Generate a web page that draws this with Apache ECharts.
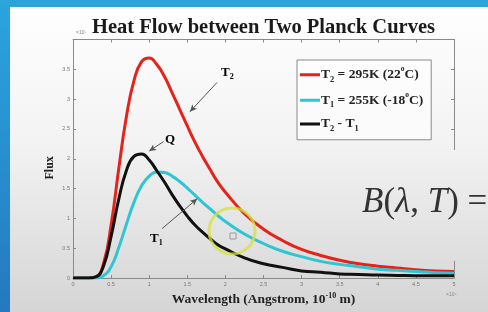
<!DOCTYPE html>
<html>
<head>
<meta charset="utf-8">
<script src="https://cdn.jsdelivr.net/npm/echarts@6/dist/echarts.min.js"></script>
<style>html,body{margin:0;padding:0;background:#fff;} #chart{width:488px;height:312px;}</style>
</head>
<body>
<div id="chart"></div>
<script>
const wavelength = [0, 0.1, 0.2, 0.3, 0.4, 0.5, 0.6, 0.7, 0.8, 0.9, 1.0, 1.1, 1.2, 1.3, 1.4, 1.5, 1.6, 1.7, 1.8, 1.9, 2.0,
    2.25, 2.5, 2.75, 3.0, 3.25, 3.5, 3.75, 4.0, 4.25, 4.5, 4.75, 5.0];
const fluxT2 = [0, 0, 0, 0.02, 0.24, 0.89, 1.83, 2.70, 3.31, 3.63, 3.69, 3.58, 3.38, 3.11, 2.83, 2.55, 2.28, 2.04, 1.82, 1.61, 1.44,
    1.08, 0.82, 0.63, 0.48, 0.38, 0.30, 0.24, 0.20, 0.17, 0.14, 0.12, 0.11];
const fluxT1 = [0, 0, 0, 0, 0.04, 0.19, 0.51, 0.90, 1.27, 1.55, 1.71, 1.78, 1.77, 1.71, 1.62, 1.51, 1.39, 1.27, 1.16, 1.05, 0.95,
    0.74, 0.58, 0.45, 0.36, 0.28, 0.23, 0.19, 0.15, 0.13, 0.11, 0.09, 0.08];
const fluxQ  = [0, 0, 0, 0.02, 0.20, 0.70, 1.32, 1.80, 2.04, 2.08, 1.98, 1.80, 1.61, 1.40, 1.21, 1.04, 0.89, 0.77, 0.66, 0.56, 0.49,
    0.34, 0.24, 0.18, 0.12, 0.10, 0.07, 0.06, 0.05, 0.045, 0.04, 0.04, 0.04];
const seriesNames = ['T2 = 295K (22°C)', 'T1 = 255K (-18°C)', 'T2 - T1'];
const xTicks = ['0', '0.5', '1', '1.5', '2', '2.5', '3', '3.5', '4', '4.5', '5'];
const yTicks = ['0', '0.5', '1', '1.5', '2', '2.5', '3', '3.5', ''];

const chart = echarts.init(document.getElementById('chart'));
const serif = '"Liberation Serif", "DejaVu Serif", serif';

function pairs(ys) {
    return wavelength.map(function (x, i) { return [x, ys[i]]; });
}

const slideBg = new echarts.graphic.LinearGradient(0, 0, 0, 312, [
    {offset: 0, color: '#ffffff'},
    {offset: 0.45, color: '#f3f3f3'},
    {offset: 1, color: '#d5d5d5'}
], true);

const legendText = {
    'T2 = 295K (22°C)': '{n|T}{s|2}{n| = 295K (22}{p|o}{n|C)}',
    'T1 = 255K (-18°C)': '{n|T}{s|1}{n| = 255K (-18}{p|o}{n|C)}',
    'T2 - T1': '{n|T}{s|2}{n| - T}{s|1}'
};
function subSup(size) {
    return {
        n: {fontFamily: serif, fontWeight: 'bold', fontSize: size, lineHeight: size + 4, color: '#222'},
        s: {fontFamily: serif, fontWeight: 'bold', fontSize: size * 0.62, lineHeight: size * 0.62, verticalAlign: 'bottom', color: '#222'},
        p: {fontFamily: serif, fontWeight: 'bold', fontSize: size * 0.55, lineHeight: size * 0.55, verticalAlign: 'top', color: '#222'}
    };
}

const axisGray = '#8a8a8a';
function boxAxis(pos, showLabel, ticks, extra) {
    return Object.assign({
        type: 'value',
        position: pos,
        min: 0,
        interval: 0.5,
        axisLine: {show: true, onZero: false, lineStyle: {color: axisGray, width: 1}},
        axisTick: {show: true, inside: true, length: 3, lineStyle: {color: axisGray}},
        axisLabel: {
            show: showLabel, fontSize: 5.5, color: '#777', margin: 3,
            formatter: function (v) { return ticks[Math.round(v / 0.5)]; }
        },
        splitLine: {show: false}
    }, extra || {});
}

function arrow(from, to) {
    return {
        silent: true,
        symbol: ['none', 'arrow'],
        symbolSize: [5, 7],
        lineStyle: {color: '#555', width: 1, type: 'solid'},
        label: {show: false},
        data: [[{coord: from}, {coord: to}]]
    };
}

const option = {
    animation: false,
    title: {
        text: 'Heat Flow between Two Planck Curves',
        left: 87,
        top: 12,
        textStyle: {fontFamily: serif, fontWeight: 'bold', fontSize: 20.5, color: '#1a1a1a'}
    },
    grid: {left: 73, right: 34, top: 39.5, bottom: 30},
    legend: {
        orient: 'vertical',
        left: 297,
        top: 60,
        padding: [6, 8, 7, 3],
        itemGap: 8,
        itemWidth: 20,
        itemHeight: 3,
        icon: 'rect',
        backgroundColor: 'rgba(255,255,255,0.6)',
        borderColor: '#8a8a8a',
        borderWidth: 1,
        borderRadius: 0,
        data: seriesNames,
        formatter: function (name) { return legendText[name]; },
        textStyle: {padding: [0, 0, 0, -4], rich: subSup(13.5)}
    },
    xAxis: [
        boxAxis('bottom', true, xTicks, {
            max: 5,
            name: '{n|Wavelength (Angstrom, 10}{p|-10}{n| m)}',
            nameLocation: 'middle',
            nameGap: 11,
            nameTextStyle: {
                rich: {
                    n: {fontFamily: serif, fontWeight: 'bold', fontSize: 13.5, lineHeight: 16, color: '#222'},
                    p: {fontFamily: serif, fontWeight: 'bold', fontSize: 8, lineHeight: 8, verticalAlign: 'top', color: '#222'}
                }
            }
        }),
        boxAxis('top', false, xTicks, {max: 5})
    ],
    yAxis: [
        boxAxis('left', true, yTicks, {
            max: 4,
            name: 'Flux',
            nameLocation: 'middle',
            nameGap: 17,
            nameMoveOverlap: false,
            nameRotate: 90,
            nameTextStyle: {fontFamily: serif, fontWeight: 'bold', fontSize: 12, color: '#222', padding: [0, 18, 0, 0]}
        }),
        boxAxis('right', false, yTicks, {max: 4})
    ],
    series: [
        {
            name: seriesNames[0], type: 'line', data: pairs(fluxT2),
            smooth: 0.5, showSymbol: false,
            lineStyle: {color: '#e6231b', width: 3}, itemStyle: {color: '#e6231b'},
            markLine: arrow([1.89, 3.28], [1.535, 2.79])
        },
        {
            name: seriesNames[1], type: 'line', data: pairs(fluxT1),
            smooth: 0.5, showSymbol: false,
            lineStyle: {color: '#2fc6d4', width: 3}, itemStyle: {color: '#2fc6d4'},
            markLine: arrow([1.17, 0.83], [1.63, 1.33])
        },
        {
            name: seriesNames[2], type: 'line', data: pairs(fluxQ),
            smooth: 0.5, showSymbol: false,
            lineStyle: {color: '#111111', width: 3}, itemStyle: {color: '#111111'},
            markLine: arrow([1.19, 2.29], [1.0, 2.13])
        }
    ],
    graphic: [
        {type: 'rect', z: -100, shape: {x: 0, y: 0, width: 488, height: 312}, style: {fill: slideBg}},
        {type: 'rect', z: -90, shape: {x: 0, y: 0, width: 488, height: 7}, style: {fill: '#2aa4d9'}},
        {
            type: 'rect', z: -90, shape: {x: 0, y: 0, width: 10, height: 312},
            style: {fill: new echarts.graphic.LinearGradient(0, 0, 0, 1, [
                {offset: 0, color: '#2ba5db'}, {offset: 1, color: '#2479c2'}
            ])}
        },
        // slide overlay hides part of the right box edge
        {type: 'rect', z: 50, shape: {x: 449, y: 150, width: 39, height: 111}, style: {fill: slideBg}},
        {
            type: 'text', z: 60, left: 362, top: 185,
            style: {
                text: '{i|B}{r|(}{i|λ}{r|, }{i|T}{r|) =}',
                rich: {
                    i: {fontFamily: serif, fontStyle: 'italic', fontSize: 35, fill: '#333'},
                    r: {fontFamily: serif, fontSize: 35, fill: '#333'}
                }
            }
        },
        {type: 'text', z: 60, left: 221, top: 66, style: {text: '{n|T}{s|2}', rich: subSup(13)}},
        {type: 'text', z: 60, left: 165, top: 133, style: {text: '{n|Q}', rich: subSup(13)}},
        {type: 'text', z: 60, left: 150, top: 232, style: {text: '{n|T}{s|1}', rich: subSup(13)}},
        {type: 'text', z: 60, left: 76, top: 30, style: {text: '×10⁷', fontSize: 5, fill: '#888'}},
        {type: 'text', z: 60, left: 446, top: 292, style: {text: '×10⁵', fontSize: 5, fill: '#888'}},
        {
            type: 'circle', z: 60, shape: {cx: 232, cy: 231, r: 23},
            style: {fill: 'none', stroke: 'rgba(214,226,60,0.75)', lineWidth: 3}
        },
        {
            type: 'rect', z: 60, shape: {x: 230, y: 233, width: 6, height: 6},
            style: {fill: 'none', stroke: '#9a9a9a', lineWidth: 1}
        }
    ]
};
chart.setOption(option);
</script>
</body>
</html>
